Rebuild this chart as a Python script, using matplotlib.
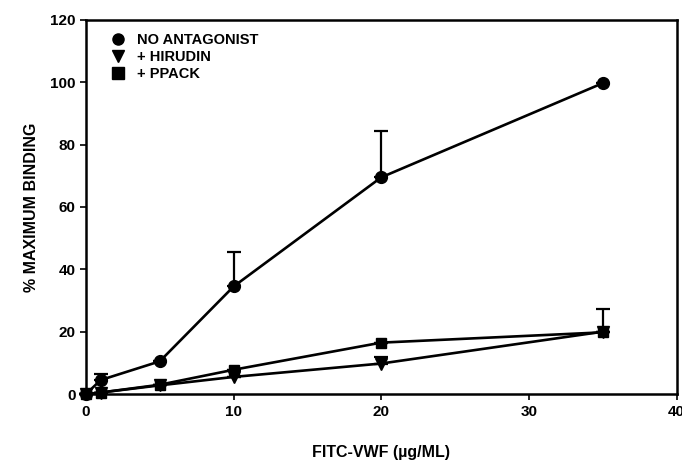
import matplotlib
matplotlib.use('Agg')
import matplotlib.pyplot as plt
from matplotlib.lines import Line2D

plt.rcParams['font.family'] = ['Liberation Sans', 'DejaVu Sans']
plt.rcParams['font.weight'] = 'bold'

conc = [0, 1, 5, 10, 20, 35]

no_antagonist = [0, 4.5, 10.5, 34.5, 69.5, 99.7]
no_antagonist_err = [0, 2.0, 0, 11.0, 15.0, 0]

hirudin = [0, 0.5, 2.8, 5.5, 9.8, 20.0]
hirudin_err = [0, 0, 0, 0, 2.0, 0]

ppack = [0, 0.5, 3.0, 7.8, 16.5, 19.8]
ppack_err = [0, 0, 0, 0, 0, 7.5]

labels = ['NO ANTAGONIST', '+ HIRUDIN', '+ PPACK']
markers = ['o', 'v', 's']


def draw_series(ax, y, err, marker, size):
    ax.errorbar(conc, y, yerr=[[0] * len(err), err], color='black', lw=1.9,
                marker=marker, ms=size, capsize=5, capthick=1.6, elinewidth=1.6,
                clip_on=False, zorder=3)


fig = plt.figure(figsize=(6.82, 4.62), dpi=100)
ax = fig.add_axes([0.126, 0.147, 0.866, 0.81])

draw_series(ax, no_antagonist, no_antagonist_err, 'o', 8.5)
draw_series(ax, hirudin, hirudin_err, 'v', 8)
draw_series(ax, ppack, ppack_err, 's', 7.5)

ax.set_xlim(0, 40)
ax.set_ylim(0, 120)
ax.set_xticks([0, 10, 20, 30, 40])
ax.set_yticks([0, 20, 40, 60, 80, 100, 120])
ax.tick_params(labelsize=11, width=1.2, length=4)
for lab in ax.get_xticklabels() + ax.get_yticklabels():
    lab.set_fontweight('bold')
for sp in ax.spines.values():
    sp.set_linewidth(1.8)

ax.set_xlabel('FITC-VWF (µg/ML)', fontsize=11.5, fontweight='bold', labelpad=19)
ax.set_ylabel('% MAXIMUM BINDING', fontsize=11.5, fontweight='bold', labelpad=8)

handles = [Line2D([], [], ls='none', marker=m, color='black', ms=8) for m in markers]
ax.legend(handles, labels, loc='upper left', bbox_to_anchor=(0.02, 1.0), frameon=False,
          handlelength=1.0, handletextpad=0.8, labelspacing=0.2,
          prop={'weight': 'bold', 'size': 10.5})

fig.savefig('out.png', dpi=100)
